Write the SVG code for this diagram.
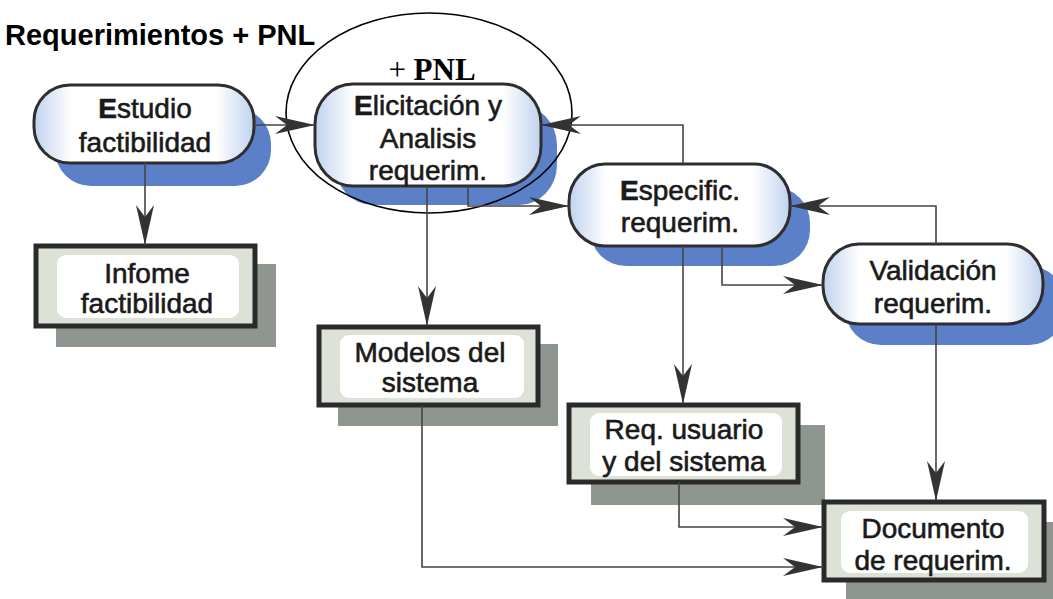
<svg xmlns="http://www.w3.org/2000/svg" width="1053" height="599" viewBox="0 0 1053 599">
  <defs>
    <linearGradient id="pillFill" x1="0" y1="0" x2="1" y2="0">
      <stop offset="0" stop-color="#c0d2ee"/>
      <stop offset="0.17" stop-color="#ffffff"/>
      <stop offset="0.83" stop-color="#ffffff"/>
      <stop offset="1" stop-color="#c0d2ee"/>
    </linearGradient>
    <marker id="arrow" markerUnits="userSpaceOnUse" viewBox="-42 -11 44 22" markerWidth="44" markerHeight="22" refX="0" refY="0" orient="auto">
      <path d="M0,0 L-40,-9 Q-32,-3 -28,0 Q-32,3 -40,9 Z" fill="#333333"/>
    </marker>
    <style>
      .bg { fill: #ffffff; }
      .pill-shadow { fill: #5b80c8; }
      .pill { fill: url(#pillFill); stroke: #2e2e2e; stroke-width: 3; }
      .box-shadow { fill: #8f968f; }
      .box { fill: #dce2d6; stroke: #2a2a2a; stroke-width: 5; }
      .box-inner { fill: #ffffff; }
      .label { font-family: "Liberation Sans", Arial, sans-serif; font-size: 28px; fill: #1a1a1a; text-anchor: middle; stroke: #1a1a1a; stroke-width: 0.6; }
      .label .cap { font-weight: bold; }
      .title { font-family: "Liberation Sans", Arial, sans-serif; font-size: 29px; font-weight: bold; fill: #000000; }
      .pnl { font-family: "Liberation Serif", "Times New Roman", serif; font-size: 31px; font-weight: bold; fill: #000000; text-anchor: middle; }
      .pnl .plus { font-weight: normal; }
      .conn { fill: none; stroke: #444444; stroke-width: 1.6; marker-end: url(#arrow); }
    </style>
  </defs>

  <rect class="bg" x="0" y="0" width="1053" height="599"/>

  <text class="title" x="5" y="45">Requerimientos + PNL</text>

  <!-- process steps (rounded) -->
  <g id="estudio">
    <rect class="pill-shadow" x="55" y="108" width="216" height="78" rx="36" ry="36"/>
    <rect class="pill" x="34" y="85" width="220" height="78" rx="36" ry="36"/>
    <text class="label" x="145" y="118"><tspan class="cap">E</tspan>studio</text>
    <text class="label" x="145" y="152">factibilidad</text>
  </g>

  <g id="elicitacion">
    <rect class="pill-shadow" x="335" y="105" width="222" height="100" rx="38" ry="40"/>
    <rect class="pill" x="315" y="84" width="226" height="102" rx="38" ry="40"/>
    <text class="label" x="428" y="115"><tspan class="cap">E</tspan>licitación y</text>
    <text class="label" x="428" y="148">Analisis</text>
    <text class="label" x="428" y="180">requerim.</text>
  </g>

  <g id="especific">
    <rect class="pill-shadow" x="590" y="187" width="220" height="79" rx="36" ry="36"/>
    <rect class="pill" x="569" y="164" width="221" height="82" rx="36" ry="38"/>
    <text class="label" x="680" y="200"><tspan class="cap">E</tspan>specific.</text>
    <text class="label" x="680" y="232">requerim.</text>
  </g>

  <g id="validacion">
    <rect class="pill-shadow" x="845" y="266" width="220" height="79" rx="36" ry="36"/>
    <rect class="pill" x="823" y="244" width="220" height="80" rx="36" ry="38"/>
    <text class="label" x="933" y="280">Validación</text>
    <text class="label" x="933" y="313">requerim.</text>
  </g>

  <!-- documents (square) -->
  <g id="infome">
    <rect class="box-shadow" x="56" y="264" width="220" height="83"/>
    <rect class="box" x="36" y="246" width="219" height="80"/>
    <rect class="box-inner" x="57" y="255" width="182" height="63" rx="9"/>
    <text class="label" x="147" y="283">Infome</text>
    <text class="label" x="147" y="313">factibilidad</text>
  </g>

  <g id="modelos">
    <rect class="box-shadow" x="338" y="344" width="220" height="82"/>
    <rect class="box" x="319" y="327" width="219" height="78"/>
    <rect class="box-inner" x="340" y="335" width="184" height="63" rx="9"/>
    <text class="label" x="430" y="362">Modelos del</text>
    <text class="label" x="430" y="392">sistema</text>
  </g>

  <g id="requsuario">
    <rect class="box-shadow" x="591" y="425" width="234" height="80"/>
    <rect class="box" x="569" y="405" width="229" height="77"/>
    <rect class="box-inner" x="590" y="413" width="192" height="63" rx="9"/>
    <text class="label" x="684" y="439">Req. usuario</text>
    <text class="label" x="684" y="471">y del sistema</text>
  </g>

  <g id="documento">
    <rect class="box-shadow" x="846" y="522" width="220" height="77"/>
    <rect class="box" x="824" y="502" width="220" height="78"/>
    <rect class="box-inner" x="841" y="511" width="187" height="62" rx="9"/>
    <text class="label" x="933" y="538">Documento</text>
    <text class="label" x="933" y="570">de requerim.</text>
  </g>

  <!-- highlight ring around elicitation step -->
  <g id="pnl-mark">
    <ellipse cx="429" cy="113" rx="143" ry="100" fill="none" stroke="#000000" stroke-width="1.6"/>
    <text class="pnl" x="432" y="80"><tspan class="plus">+</tspan> PNL</text>
  </g>

  <g id="connectors">
    <path class="conn" d="M254,125 H315"/>
    <path class="conn" d="M145,163 V245"/>
    <path class="conn" d="M427,186 V326"/>
    <path class="conn" d="M468,186 V206 H569"/>
    <path class="conn" d="M683,164 V125 H541"/>
    <path class="conn" d="M683,246 V404"/>
    <path class="conn" d="M722,246 V285 H823"/>
    <path class="conn" d="M936,244 V206 H790"/>
    <path class="conn" d="M936,324 V501"/>
    <path class="conn" d="M679,482 V527 H823"/>
    <path class="conn" d="M422,405 V567 H823"/>
  </g>
</svg>
